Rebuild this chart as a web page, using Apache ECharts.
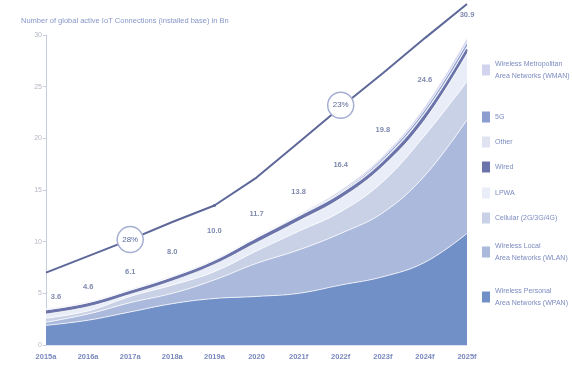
<!DOCTYPE html>
<html>
<head>
<meta charset="utf-8">
<script src="https://cdn.jsdelivr.net/npm/echarts@6/dist/echarts.min.js"></script>
<style>html,body{margin:0;padding:0;background:#fff;}#c{width:572px;height:367px;}</style>
</head>
<body>
<div id="c"></div>
<script>
const categories = ['2015a','2016a','2017a','2018a','2019a','2020','2021f','2022f','2023f','2024f','2025f'];
const yTicks = [0, 5, 10, 15, 20, 25, 30];
const totals = [3.6, 4.6, 6.1, 8.0, 10.0, 11.7, 13.8, 16.4, 19.8, 24.6, 30.9];
const cagrLine = [7.0, 8.6, 10.2, 11.9, 13.5, 16.2, 19.6, 23.0, 26.3, 29.7, 33.0];
const badgeCats = ['2017a', '2022f'];
const badgeValues = [10.2, 23.2];
const badgeTexts = ['28%', '23%'];

// stacked segments, bottom to top
const wpan     = [1.9, 2.4, 3.2, 4.0, 4.5, 4.7, 5.0, 5.8, 6.6, 8.0, 10.8];
const wlan     = [0.3, 0.6, 0.9, 1.0, 1.8, 3.2, 4.2, 5.0, 6.2, 8.4, 11.0];
const cellular = [0.4, 0.3, 0.6, 0.8, 0.8, 1.2, 1.8, 2.1, 3.0, 3.9, 3.7];
const lpwa     = [0.4, 0.4, 0.2, 0.4, 0.7, 0.8, 1.0, 1.3, 1.5, 1.5, 2.7];
const wired    = [0.3, 0.3, 0.3, 0.3, 0.3, 0.3, 0.3, 0.3, 0.3, 0.4, 0.4];
const other    = [0.1, 0.1, 0.1, 0.1, 0.1, 0.2, 0.2, 0.2, 0.3, 0.3, 0.3];
const fiveG    = [0.0, 0.0, 0.0, 0.0, 0.0, 0.0, 0.05, 0.1, 0.2, 0.3, 0.4];
const wman     = [0.1, 0.1, 0.1, 0.1, 0.1, 0.1, 0.1, 0.2, 0.2, 0.3, 0.4];

const seriesNames = ['Wireless Personal Area Networks (WPAN)','Wireless Local Area Networks (WLAN)','Cellular (2G/3G/4G)','LPWA','Wired','Other','5G','Wireless Metropolitan Area Networks (WMAN)'];
const legendLabels = ['Wireless Personal\nArea Networks (WPAN)','Wireless Local\nArea Networks (WLAN)','Cellular (2G/3G/4G)','LPWA','Wired','Other','5G','Wireless Metropolitan\nArea Networks (WMAN)'];
const seriesData = [wpan, wlan, cellular, lpwa, wired, other, fiveG, wman];
const colors = ['#7290c8','#aab9dc','#c9d1e7','#e9edf7','#6b74aa','#dfe3f1','#8c9ed0','#d2d3ef'];
const legendTops = [280, 235, 207, 182, 156, 131, 106, 53];

const chart = echarts.init(document.getElementById('c'), null, {renderer: 'canvas'});

const areaSeries = seriesNames.map((name, i) => ({
  name: name,
  type: 'line',
  stack: 'total',
  smooth: 0.4,
  symbol: 'none',
  data: seriesData[i],
  itemStyle: {color: colors[i]},
  lineStyle: name === 'Wired' ? {width: 2, color: '#6b74aa'} : {width: 1, color: 'rgba(255,255,255,0.75)'},
  areaStyle: {color: colors[i], opacity: 1},
  z: 2
}));

const legends = seriesNames.map((name, i) => ({
  data: [name],
  left: 477,
  top: legendTops[i],
  orient: 'vertical',
  icon: 'rect',
  itemWidth: 8,
  itemHeight: 11,
  itemGap: 4,
  selectedMode: false,
  formatter: () => legendLabels[i],
  textStyle: {fontSize: 7, color: '#7b8bc0', lineHeight: 12, fontFamily: 'Liberation Sans'}
}));

const option = {
  animation: false,
  title: {
    text: 'Number of global active IoT Connections (installed base) in Bn',
    left: 16, top: 12,
    textStyle: {fontSize: 7.5, fontWeight: 'normal', color: '#8797c8', fontFamily: 'Liberation Sans'}
  },
  legend: legends,
  grid: {left: 46, right: 105, top: 35, bottom: 22, containLabel: false},
  xAxis: {
    type: 'category',
    data: categories,
    boundaryGap: false,
    axisLine: {show: true, lineStyle: {color: '#dfe4f0', width: 1}},
    axisTick: {show: false},
    axisLabel: {fontSize: 7.5, color: '#7888bd', fontWeight: 'bold', margin: 8, interval: 0, fontFamily: 'Liberation Sans'}
  },
  yAxis: {
    type: 'value',
    min: 0, max: 30, interval: 5,
    axisLine: {show: true, lineStyle: {color: '#c5cce0', width: 1}},
    axisTick: {show: true, length: 3, lineStyle: {color: '#c5cce0'}},
    splitLine: {show: false},
    axisLabel: {fontSize: 7, color: '#b4b8c4', margin: 4, fontFamily: 'Liberation Sans',
      formatter: v => yTicks.includes(v) ? String(v) : ''}
  },
  series: [
    ...areaSeries,
    {
      name: 'cagr',
      type: 'line',
      data: cagrLine.map((v, i) => i === 4 ? {value: v, symbol: 'circle', symbolSize: 3} : {value: v, symbol: 'none'}),
      lineStyle: {color: '#5d6899', width: 2},
      itemStyle: {color: '#5d6899'},
      clip: false,
      z: 5
    },
    {
      name: 'badges',
      type: 'scatter',
      data: badgeCats.map((c, i) => ({value: [c, badgeValues[i]], name: badgeTexts[i]})),
      symbol: 'circle',
      symbolSize: 26,
      itemStyle: {color: '#ffffff', borderColor: '#a6afd2', borderWidth: 1.5, opacity: 1},
      label: {show: true, position: 'inside', formatter: p => p.name, fontSize: 8, color: '#5d6899', fontFamily: 'Liberation Sans'},
      clip: false,
      z: 8
    },
    {
      name: 'totals',
      type: 'scatter',
      data: totals.map((v, i) => i === 0
        ? {value: [categories[i], v], label: {offset: [10, 0]}}
        : {value: [categories[i], v]}),
      symbolSize: 1,
      itemStyle: {color: 'transparent'},
      label: {show: true, position: 'top', distance: 6, formatter: p => p.value[1].toFixed(1), fontSize: 7.5, fontWeight: 'bold', color: '#5e6b98', fontFamily: 'Liberation Sans'},
      clip: false,
      z: 7
    }
  ]
};
chart.setOption(option);
</script>
</body>
</html>
